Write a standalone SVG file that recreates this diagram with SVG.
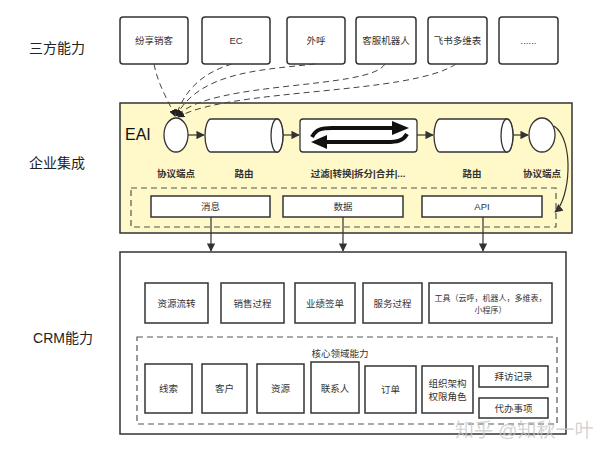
<svg xmlns="http://www.w3.org/2000/svg" width="600" height="451" viewBox="0 0 600 451">
<defs>
<style>
text{font-family:"Liberation Sans","Noto Sans CJK SC",sans-serif;fill:#333;}
.t{font-size:9.5px;text-anchor:middle;}
.s{font-size:8px;}
.lbl{font-size:14px;text-anchor:middle;fill:#222;}
.top{fill:#fff;stroke:#333;stroke-width:1.5;}
.box{fill:#fff;stroke:#333;stroke-width:1.5;}
.dash{fill:none;stroke:#555;stroke-width:1.2;stroke-dasharray:6 4;}
.con{fill:none;stroke:#333;stroke-width:1.2;}
.curve{fill:none;stroke:#444;stroke-width:1;stroke-dasharray:6 4;}
.b{font-weight:bold;}
</style>
<marker id="ah" viewBox="0 0 10 10" refX="9" refY="5" markerWidth="7" markerHeight="7" orient="auto-start-reverse">
<path d="M0,0 L10,5 L0,10 Z" fill="#333"/>
</marker>
<marker id="ah2" viewBox="0 0 10 10" refX="9" refY="5" markerWidth="7" markerHeight="7" orient="auto">
<path d="M0,0 L10,5 L0,10 Z" fill="#222"/>
</marker>
</defs>
<rect width="600" height="451" fill="#fff"/>

<g id="row-labels">
<text class="lbl" x="57" y="53">三方能力</text>
<text class="lbl" x="57" y="168">企业集成</text>
<text class="lbl" x="63" y="343">CRM能力</text>
</g>

<g id="third-party">
<g id="n-fenxiang"><rect class="top" x="120" y="17" width="68" height="47" rx="3"/><text class="t" x="154" y="44">纷享销客</text></g>
<g id="n-ec"><rect class="top" x="202" y="17" width="68" height="47" rx="3"/><text class="t" x="236" y="44">EC</text></g>
<g id="n-waihu"><rect class="top" x="287" y="17" width="58" height="47" rx="3"/><text class="t" x="316" y="44">外呼</text></g>
<g id="n-kefu"><rect class="top" x="356" y="17" width="60" height="47" rx="3"/><text class="t" x="386" y="44">客服机器人</text></g>
<g id="n-feishu"><rect class="top" x="428" y="17" width="59" height="47" rx="3"/><text class="t" x="457.5" y="44">飞书多维表</text></g>
<g id="n-more"><rect class="top" x="499" y="17" width="59" height="47" rx="3"/><text class="t" x="528.5" y="44">......</text></g>
</g>

<g id="eai">
<rect x="120" y="103" width="452" height="130" fill="#fff8c8" stroke="#333" stroke-width="1.5"/>
<text x="125" y="140" style="font-size:16px;fill:#111;">EAI</text>
<rect class="dash" x="131" y="188" width="425" height="39"/>
<g id="n-ep1"><ellipse cx="176" cy="135" rx="12" ry="17" fill="#fff" stroke="#333" stroke-width="1.3"/><text class="t b" x="176" y="177">协议端点</text></g>
<g id="n-route1">
<path d="M211,119 L277,119 A6,16.5 0 0 1 277,152 L211,152 A6,16.5 0 0 1 211,119 Z" fill="#fff" stroke="#333" stroke-width="1.3"/>
<ellipse cx="277" cy="135.5" rx="6" ry="16.5" fill="#fff" stroke="#333" stroke-width="1.3"/>
<text class="t b" x="244" y="177">路由</text></g>
<g id="n-filter">
<rect x="300" y="119" width="117" height="33" rx="3" fill="#fff" stroke="#333" stroke-width="1.3"/>
<path d="M312,137 C316,129 322,128 332,128 L394,128" fill="none" stroke="#111" stroke-width="4"/>
<path d="M392,121 L409,128 L392,135 Z" fill="#111"/>
<path d="M407,134 C403,141 397,142 387,142 L325,142" fill="none" stroke="#111" stroke-width="4"/>
<path d="M327,135 L311,142 L327,149 Z" fill="#111"/>
<text class="t b" x="358" y="177">过滤|转换|拆分|合并|...</text></g>
<g id="n-route2">
<path d="M440,119 L507,119 A6,16.5 0 0 1 507,152 L440,152 A6,16.5 0 0 1 440,119 Z" fill="#fff" stroke="#333" stroke-width="1.3"/>
<ellipse cx="507" cy="135.5" rx="6" ry="16.5" fill="#fff" stroke="#333" stroke-width="1.3"/>
<text class="t b" x="472" y="177">路由</text></g>
<g id="n-ep2"><ellipse cx="542" cy="135" rx="13" ry="17" fill="#fff" stroke="#333" stroke-width="1.3"/><text class="t b" x="542" y="177">协议端点</text></g>
<g id="n-msg"><rect class="box" x="151" y="196" width="119" height="21"/><text class="t" x="210.5" y="210">消息</text></g>
<g id="n-data"><rect class="box" x="283" y="196" width="120" height="21"/><text class="t" x="343" y="210">数据</text></g>
<g id="n-api"><rect class="box" x="422" y="196" width="120" height="21"/><text class="t" x="482" y="210">API</text></g>
</g>

<g id="crm">
<rect x="120" y="252" width="446" height="182" fill="#fff" stroke="#333" stroke-width="1.5"/>
<g id="n-zyll"><rect class="box" x="145" y="283" width="63" height="40"/><text class="t" x="176.5" y="307">资源流转</text></g>
<g id="n-xsgc"><rect class="box" x="221" y="283" width="63" height="40"/><text class="t" x="252.5" y="307">销售过程</text></g>
<g id="n-yjqd"><rect class="box" x="295" y="283" width="60" height="40"/><text class="t" x="325" y="307">业绩签单</text></g>
<g id="n-fwgc"><rect class="box" x="363" y="283" width="59" height="40"/><text class="t" x="392.5" y="307">服务过程</text></g>
<g id="n-tools"><rect class="box" x="429" y="283" width="123" height="40"/><text class="t s" x="490.5" y="301">工具（云呼，机器人，多维表，</text><text class="t s" x="490.5" y="313">小程序）</text></g>
<rect class="dash" x="137" y="337" width="420" height="87"/>
<text class="t" x="340" y="357">核心领域能力</text>
<g id="n-xiansuo"><rect class="box" x="145" y="364" width="47" height="49"/><text class="t" x="168.5" y="392">线索</text></g>
<g id="n-kehu"><rect class="box" x="202" y="364" width="45" height="49"/><text class="t" x="224.5" y="392">客户</text></g>
<g id="n-ziyuan"><rect class="box" x="257" y="364" width="47" height="49"/><text class="t" x="280.5" y="392">资源</text></g>
<g id="n-lianxiren"><rect class="box" x="311" y="362" width="48" height="51"/><text class="t" x="335" y="392">联系人</text></g>
<g id="n-dingdan"><rect class="box" x="365" y="366" width="51" height="47"/><text class="t" x="390.5" y="393">订单</text></g>
<g id="n-zuzhi"><rect class="box" x="422" y="366" width="51" height="47"/><text class="t" x="447.5" y="387">组织架构</text><text class="t" x="447.5" y="400">权限角色</text></g>
<g id="n-baifang"><rect class="box" x="479" y="366" width="69" height="21"/><text class="t" x="513.5" y="380">拜访记录</text></g>
<g id="n-daiban"><rect class="box" x="479" y="398" width="69" height="20"/><text class="t" x="513.5" y="412">代办事项</text></g>
</g>

<g id="connectors">
<path class="curve" d="M154,64 C158,85 168,100 175,116" marker-end="url(#ah2)"/>
<path class="curve" d="M232,64 C205,72 185,88 176,116" marker-end="url(#ah2)"/>
<path class="curve" d="M315,64 C260,70 200,72 176,116" marker-end="url(#ah2)"/>
<path class="curve" d="M385,64 C370,90 210,80 177,116" marker-end="url(#ah2)"/>
<path class="curve" d="M456,64 C410,95 230,88 178,117" marker-end="url(#ah2)"/>
<line class="con" x1="188" y1="135" x2="204" y2="135" marker-end="url(#ah)"/>
<line class="con" x1="283" y1="135" x2="299" y2="135" marker-end="url(#ah)"/>
<line class="con" x1="417" y1="135" x2="433" y2="135" marker-end="url(#ah)"/>
<line class="con" x1="513" y1="135" x2="528" y2="135" marker-end="url(#ah)"/>
<path class="con" d="M554,126 C575,140 570,200 555,212" marker-end="url(#ah)"/>
<line class="con" x1="211" y1="217" x2="211" y2="251" marker-end="url(#ah)"/>
<line class="con" x1="343" y1="217" x2="343" y2="251" marker-end="url(#ah)"/>
<line class="con" x1="483" y1="217" x2="483" y2="251" marker-end="url(#ah)"/>
</g>

<text x="455" y="437" style="font-size:19px;fill:#c8c8c8;fill-opacity:0.8;">知乎 @知秋一叶</text>
</svg>
